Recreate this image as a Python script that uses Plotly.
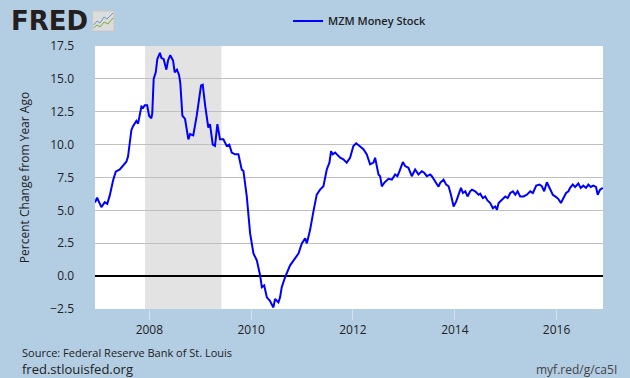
import plotly.graph_objects as go

# ---- data ----
dates = [
    "2006-12-07", "2006-12-22", "2007-01-22", "2007-02-15", "2007-03-05", "2007-03-23",
    "2007-04-16", "2007-05-05", "2007-06-03", "2007-07-08", "2007-07-20", "2007-08-01",
    "2007-08-13", "2007-08-25", "2007-09-06", "2007-09-30", "2007-10-12", "2007-10-24",
    "2007-11-05", "2007-11-17", "2007-11-29", "2007-12-16", "2007-12-30", "2008-01-15",
    "2008-01-22", "2008-02-01", "2008-02-16", "2008-02-27", "2008-03-17", "2008-03-27",
    "2008-04-13", "2008-05-02", "2008-05-14", "2008-05-30", "2008-06-19", "2008-07-01",
    "2008-07-17", "2008-08-01", "2008-08-10", "2008-08-25", "2008-09-13", "2008-10-07",
    "2008-10-19", "2008-11-11", "2008-12-06", "2009-01-06", "2009-01-18", "2009-02-04",
    "2009-02-27", "2009-03-11", "2009-03-31", "2009-04-16", "2009-05-03", "2009-05-22",
    "2009-06-15", "2009-07-09", "2009-07-28", "2009-08-14", "2009-09-07", "2009-10-01",
    "2009-10-13", "2009-10-25", "2009-11-06", "2009-11-30", "2009-12-24", "2010-01-17",
    "2010-02-10", "2010-03-06", "2010-03-18", "2010-04-04", "2010-04-23", "2010-05-14",
    "2010-06-09", "2010-06-21", "2010-07-15", "2010-07-27", "2010-08-08", "2010-09-01",
    "2010-10-07", "2010-11-12", "2010-12-06", "2010-12-30", "2011-01-23", "2011-02-04",
    "2011-02-27", "2011-03-23", "2011-04-16", "2011-05-10", "2011-06-03", "2011-06-27",
    "2011-07-16", "2011-07-28", "2011-08-09", "2011-08-26", "2011-10-01", "2011-10-24",
    "2011-11-17", "2011-12-11", "2012-01-04", "2012-01-24", "2012-02-21", "2012-03-16",
    "2012-04-09", "2012-05-03", "2012-05-27", "2012-06-08", "2012-07-02", "2012-07-14",
    "2012-07-26", "2012-08-12", "2012-09-12", "2012-10-06", "2012-10-30", "2012-11-15",
    "2012-11-30", "2012-12-24", "2013-01-09", "2013-02-02", "2013-02-26", "2013-03-22",
    "2013-04-15", "2013-05-09", "2013-05-26", "2013-06-14", "2013-07-08", "2013-07-20",
    "2013-08-13", "2013-09-06", "2013-09-18", "2013-10-12", "2013-10-31", "2013-11-17",
    "2013-12-04", "2013-12-23", "2014-01-11", "2014-01-28", "2014-02-14", "2014-02-28",
    "2014-03-17", "2014-04-02", "2014-04-21", "2014-05-04", "2014-05-27", "2014-06-20",
    "2014-07-02", "2014-07-21", "2014-08-07", "2014-08-23", "2014-09-12", "2014-10-01",
    "2014-10-18", "2014-10-30", "2014-11-11", "2014-12-05", "2014-12-29", "2015-01-15",
    "2015-02-03", "2015-02-22", "2015-03-11", "2015-03-27", "2015-04-15", "2015-05-09",
    "2015-06-02", "2015-06-26", "2015-07-15", "2015-08-08", "2015-09-01", "2015-09-18",
    "2015-10-04", "2015-10-23", "2015-11-11", "2015-12-05", "2015-12-29", "2016-01-14",
    "2016-02-01", "2016-02-19", "2016-03-09", "2016-03-26", "2016-04-07", "2016-04-26",
    "2016-05-13", "2016-06-05", "2016-06-22", "2016-07-11", "2016-07-30", "2016-08-16",
    "2016-09-02", "2016-09-21", "2016-10-10", "2016-10-22", "2016-11-08", "2016-11-27",
]
mzm_pct_change = [
    5.6, 5.96, 5.25, 5.63, 5.5, 6.14,
    7.29, 7.94, 8.11, 8.57, 8.7, 9.09,
    10.1, 11.1, 11.4, 11.8, 11.6, 12.3,
    12.9, 12.8, 13.0, 13.0, 12.2, 12.0,
    12.4, 15.0, 15.5, 16.5, 16.98, 16.6,
    16.5, 15.7, 16.4, 16.8, 16.4, 15.5,
    15.7, 15.3, 14.7, 12.2, 11.95, 10.4,
    10.8, 10.7, 12.2, 14.5, 14.56, 13.0,
    11.3, 11.56, 10.0, 9.9, 11.56, 10.4,
    10.4, 9.9, 10.0, 9.4, 9.26, 9.26,
    8.6, 8.1, 8.0, 6.06, 3.25, 1.72,
    1.2, 0.05, -0.84, -0.71, -1.61, -1.86,
    -2.38, -1.74, -2.0, -1.6, -0.84, -0.08,
    0.82, 1.33, 1.72, 2.49, 2.87, 2.49,
    3.5, 4.91, 6.2, 6.58, 6.83, 8.11,
    8.63, 9.5, 9.26, 9.39, 9.01, 8.88,
    8.63, 9.0, 9.9, 10.1, 9.85, 9.65,
    9.26, 8.5, 8.63, 9.0, 7.73, 7.6,
    6.83, 7.09, 7.4, 7.34, 7.73, 7.6,
    7.98, 8.67, 8.37, 8.24, 7.6, 8.11,
    7.73, 7.98, 7.86, 7.6, 7.73, 7.6,
    7.2, 6.8, 7.09, 7.34, 6.96, 6.83,
    6.19, 5.3, 5.68, 6.19, 6.71, 6.32,
    6.45, 6.06, 6.45, 6.58, 6.45, 6.19,
    6.27, 5.94, 6.06, 5.76, 5.56, 5.17,
    5.3, 5.04, 5.56, 5.81, 6.06, 5.94,
    6.32, 6.45, 6.19, 6.45, 6.06, 6.06,
    6.19, 6.45, 6.32, 6.88, 6.96, 6.83,
    6.45, 7.14, 6.71, 6.19, 6.01, 5.86,
    5.56, 5.94, 6.32, 6.45, 6.71, 6.96,
    6.78, 7.04, 6.71, 6.88, 6.71, 6.96,
    6.78, 6.88, 6.78, 6.19, 6.58, 6.71,
]
recession_start = "2007-12-01"
recession_end = "2009-06-01"
y_tick_values = [-2.5, 0.0, 2.5, 5.0, 7.5, 10.0, 12.5, 15.0, 17.5]
x_tick_values = ["2008-01-01", "2010-01-01", "2012-01-01", "2014-01-01", "2016-01-01"]
x_tick_labels = ["2008", "2010", "2012", "2014", "2016"]
series_name = "MZM Money Stock"

BG = "#b3cde3"
FONT = "Open Sans, Noto Sans, DejaVu Sans, sans-serif"

fig = go.Figure()
fig.add_trace(go.Scatter(
    x=dates, y=mzm_pct_change, mode="lines", name=series_name,
    line=dict(color="#0000ff", width=2), showlegend=True,
))

# recession shading
fig.add_vrect(x0=recession_start, x1=recession_end, fillcolor="#e3e3e3",
              line_width=0, layer="below")

fig.update_layout(
    width=630, height=378,
    margin=dict(l=95, r=27, t=46, b=69, autoexpand=False),
    paper_bgcolor=BG, plot_bgcolor="white",
    font=dict(family=FONT, size=12, color="#222222"),
    showlegend=True,
    legend=dict(x=0.38, y=1.095, xanchor="left", yanchor="middle",
                bgcolor="rgba(0,0,0,0)", font=dict(size=11, color="#222222", weight=600),
                itemwidth=30),
    xaxis=dict(
        type="date", range=["2006-12-07", "2016-11-29"], automargin=False,
        tickvals=x_tick_values, ticktext=x_tick_labels,
        showgrid=False, zeroline=False, showline=False,
        ticks="outside", ticklen=10, tickcolor="rgba(255,255,255,0.45)", tickwidth=1,
        tickfont=dict(size=12, color="#222222"),
    ),
    yaxis=dict(
        range=[-2.5, 17.5], tickvals=y_tick_values, tickformat=".1f", automargin=False,
        showgrid=True, gridcolor="#c0c0c0", gridwidth=1,
        zeroline=True, zerolinecolor="black", zerolinewidth=2,
        showline=False, ticks="", ticklabelstandoff=20,
        tickfont=dict(size=12, color="#222222"),
        title=dict(text="Percent Change from Year Ago", font=dict(size=12, color="#222222"),
                   standoff=18),
    ),
)

# FRED logo text and icon
def px(xp):
    return (xp - 95) / 508
def py(yp):
    return (309 - yp) / 263

fig.add_annotation(x=px(9), y=py(21), xref="paper", yref="paper", text="<b>FRED</b>",
                   showarrow=False, xanchor="left", yanchor="middle",
                   font=dict(family="DejaVu Sans, sans-serif", size=26, color="#231f20"))
fig.add_shape(type="rect", xref="paper", yref="paper",
              x0=px(92.5), x1=px(114), y0=py(31), y1=py(11),
              fillcolor="#dcdcdc", line=dict(color="#c8c8c8", width=1))
fig.add_shape(type="path", xref="paper", yref="paper",
              path=f"M {px(93.5)},{py(25)} L {px(97)},{py(21)} L {px(100)},{py(23)} L {px(104)},{py(17)} L {px(107)},{py(19)} L {px(113)},{py(13)}",
              line=dict(color="#6a9ac4", width=1))
fig.add_shape(type="path", xref="paper", yref="paper",
              path=f"M {px(93.5)},{py(28)} L {px(97)},{py(25)} L {px(100)},{py(27)} L {px(104)},{py(22)} L {px(108)},{py(24)} L {px(113)},{py(18)}",
              line=dict(color="#7aaa3c", width=1))

# footer texts
fig.add_annotation(x=px(20), y=py(352), xref="paper", yref="paper",
                   text="Source: Federal Reserve Bank of St. Louis", showarrow=False,
                   xanchor="left", yanchor="middle",
                   font=dict(family="Liberation Sans Narrow, Open Sans, sans-serif", size=11, color="#222222"))
fig.add_annotation(x=px(20), y=py(369), xref="paper", yref="paper",
                   text="fred.stlouisfed.org", showarrow=False,
                   xanchor="left", yanchor="middle",
                   font=dict(size=13, color="#222222"))
fig.add_annotation(x=px(619), y=py(369), xref="paper", yref="paper",
                   text="myf.red/g/ca5I", showarrow=False,
                   xanchor="right", yanchor="middle",
                   font=dict(size=12, color="#444444"))

fig.write_html("out.html", config={"displayModeBar": False},
               post_script="document.body.style.margin='0px';document.body.style.overflow='hidden';")
